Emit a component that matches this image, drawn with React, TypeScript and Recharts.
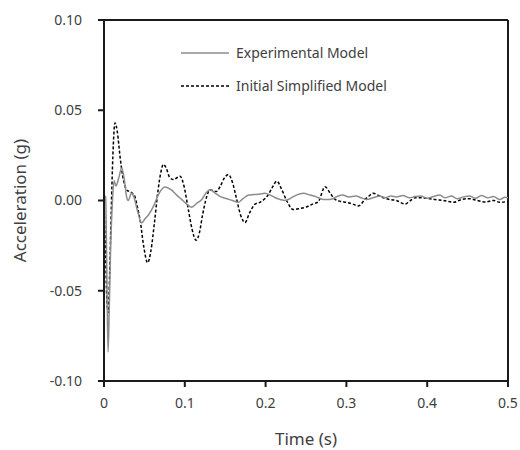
import { LineChart, Line, XAxis, YAxis, ReferenceLine } from "recharts"

const xTicks = [0, 0.1, 0.2, 0.3, 0.4, 0.5]
const yTicks = [-0.1, -0.05, 0, 0.05, 0.1]

const seriesNames = ["Experimental Model", "Initial Simplified Model"]

// experimental record (time s, accel g)
const expTime = [
    0, 0.002, 0.0035, 0.005, 0.0065, 0.008, 0.0105, 0.0125, 0.0148, 0.018, 0.0219, 0.025, 0.028, 0.03, 0.034,
    0.037, 0.041, 0.0466, 0.051, 0.055, 0.0615, 0.067, 0.0755, 0.083, 0.09, 0.096, 0.1025, 0.1085, 0.115, 0.121,
    0.126, 0.131, 0.138, 0.145, 0.152, 0.159, 0.166, 0.172, 0.179, 0.185, 0.192, 0.199, 0.206, 0.212, 0.218, 0.224,
    0.23, 0.238, 0.2467, 0.255, 0.263, 0.271, 0.277, 0.283, 0.29, 0.2955, 0.303, 0.312, 0.318, 0.325, 0.333, 0.3415,
    0.348, 0.355, 0.362, 0.37, 0.378, 0.385, 0.392, 0.4, 0.408, 0.415, 0.422, 0.43, 0.437, 0.445, 0.452, 0.46, 0.467,
    0.475, 0.482, 0.49, 0.496, 0.5,
]
const expAccel = [
    0.003, 0.002, -0.04, -0.084, -0.06, -0.03, 0.0, 0.011, 0.008, 0.012, 0.018, 0.012, 0.002, 0.0, 0.004,
    0.002, -0.005, -0.0124, -0.01, -0.008, -0.003, 0.003, 0.0075, 0.006, 0.003, 0.0006, -0.002, -0.0037, -0.0015, 0.0006,
    0.004, 0.006, 0.004, 0.002, 0.001, 0.0, -0.001, 0.001, 0.003, 0.0033, 0.0035, 0.004, 0.003, 0.0015, 0.0006, 0.0,
    0.001, 0.003, 0.004, 0.003, 0.002, 0.0006, 0.0005, 0.001, 0.0025, 0.003, 0.002, 0.0025, 0.0015, 0.0006, 0.0015, 0.0025,
    0.0015, 0.0025, 0.002, 0.0028, 0.0015, 0.0022, 0.0025, 0.0012, 0.0022, 0.003, 0.0015, 0.0025, 0.001, 0.002, 0.0025, 0.0012, 0.0028,
    0.0015, 0.0022, 0.0005, 0.0018, 0.0015,
]

// simplified model response
const simTime = [
    0, 0.002, 0.0035, 0.0053, 0.007, 0.009, 0.011, 0.0136, 0.0165, 0.0198, 0.023, 0.026, 0.029, 0.032, 0.035, 0.038,
    0.0415, 0.0446, 0.049, 0.054, 0.058, 0.0625, 0.067, 0.0705, 0.0735, 0.077, 0.081, 0.086, 0.094, 0.099, 0.104, 0.109,
    0.114, 0.118, 0.122, 0.127, 0.131, 0.139, 0.144, 0.149, 0.154, 0.159, 0.164, 0.169, 0.1745, 0.18, 0.187, 0.193,
    0.199, 0.203, 0.208, 0.214, 0.219, 0.226, 0.234, 0.242, 0.251, 0.258, 0.265, 0.2735, 0.28, 0.286, 0.293, 0.3,
    0.308, 0.315, 0.323, 0.328, 0.333, 0.339, 0.346, 0.354, 0.362, 0.3725, 0.378, 0.385, 0.393, 0.4, 0.41, 0.42,
    0.433, 0.442, 0.452, 0.462, 0.472, 0.482, 0.49, 0.5,
]
const simAccel = [
    0.0, -0.03, -0.055, -0.062, -0.04, -0.005, 0.025, 0.043, 0.038, 0.0245, 0.014, 0.008, 0.0055, 0.005, 0.004, 0.0025,
    -0.004, -0.0105, -0.025, -0.0345, -0.028, -0.012, 0.006, 0.016, 0.02, 0.018, 0.013, 0.0116, 0.0135, 0.008, -0.004, -0.016,
    -0.022, -0.018, -0.008, 0.002, 0.006, 0.005, 0.008, 0.0125, 0.0144, 0.01, 0.001, -0.008, -0.0122, -0.007, -0.002, -0.001,
    0.001, 0.003, 0.007, 0.0107, 0.007, 0.0, -0.005, -0.0045, -0.0035, -0.002, -0.0008, 0.0076, 0.004, 0.0006, -0.0005, -0.001,
    -0.002, -0.003, 0.0006, 0.0025, 0.004, 0.003, 0.0015, 0.0005, 0.0, -0.002, -0.0005, 0.0015, 0.0015, 0.0012, 0.0005, 0.0,
    -0.001, 0.0005, 0.001, 0.0, -0.0008, 0.0, -0.001, -0.0005,
]

const expData = expTime.map((t, i) => ({ t, a: expAccel[i] }))
const simData = simTime.map((t, i) => ({ t, a: simAccel[i] }))

const font = "'Noto Sans', 'Open Sans', sans-serif"
const textColor = "#404040"
const axisColor = "#1a1a1a"

function LegendBox() {
    return (
        <div style={{ position: "absolute", left: 181, top: 36, fontFamily: font, fontSize: 14, color: textColor }}>
            {seriesNames.map((name, i) => (
                <div key={name} style={{ display: "flex", alignItems: "center", height: 33 }}>
                    <svg width={48} height={6} style={{ marginRight: 7 }}>
                        <line
                            x1={0}
                            y1={3}
                            x2={48}
                            y2={3}
                            stroke={i === 0 ? "#8c8c8c" : "#000"}
                            strokeWidth={1.5}
                            strokeDasharray={i === 0 ? undefined : "3 2"}
                        />
                    </svg>
                    <span>{name}</span>
                </div>
            ))}
        </div>
    )
}

export default function App() {
    return (
        <div style={{ position: "absolute", left: 0, top: 0, width: 520, height: 450, background: "#fff" }}>
            <LineChart width={520} height={450} margin={{ top: 20, right: 12, left: 0, bottom: 0 }}>
                <XAxis
                    type="number"
                    dataKey="t"
                    domain={[0, 0.5]}
                    ticks={xTicks}
                    tickFormatter={(v: number) => (v === 0 ? "0" : v.toFixed(1))}
                    height={69}
                    tickSize={6}
                    tickMargin={11}
                    stroke={axisColor}
                    strokeWidth={2}
                    tick={{ fill: textColor, fontSize: 14, fontFamily: font }}
                    allowDuplicatedCategory={false}
                    label={{ value: "Time (s)", position: "insideBottom", offset: 5, fill: textColor, fontSize: 17, fontFamily: font }}
                />
                <YAxis
                    type="number"
                    domain={[-0.1, 0.1]}
                    ticks={yTicks}
                    tickFormatter={(v: number) => v.toFixed(2)}
                    width={104}
                    tickSize={6}
                    tickMargin={16}
                    stroke={axisColor}
                    strokeWidth={2}
                    tick={{ fill: textColor, fontSize: 14, fontFamily: font }}
                    label={{
                        value: "Acceleration (g)",
                        angle: -90,
                        position: "insideLeft",
                        offset: 20,
                        style: { textAnchor: "middle" },
                        fill: textColor,
                        fontSize: 17,
                        fontFamily: font,
                    }}
                />
                <ReferenceLine y={0.1} stroke={axisColor} strokeWidth={2} />
                <ReferenceLine x={0.5} stroke={axisColor} strokeWidth={2} />
                <Line
                    data={simData}
                    dataKey="a"
                    name={seriesNames[1]}
                    type="monotone"
                    stroke="#000"
                    strokeWidth={1.5}
                    strokeDasharray="3 2"
                    dot={false}
                    isAnimationActive={false}
                />
                <Line
                    data={expData}
                    dataKey="a"
                    name={seriesNames[0]}
                    type="monotone"
                    stroke="#8c8c8c"
                    strokeWidth={1.5}
                    dot={false}
                    isAnimationActive={false}
                />
            </LineChart>
            <LegendBox />
        </div>
    )
}
